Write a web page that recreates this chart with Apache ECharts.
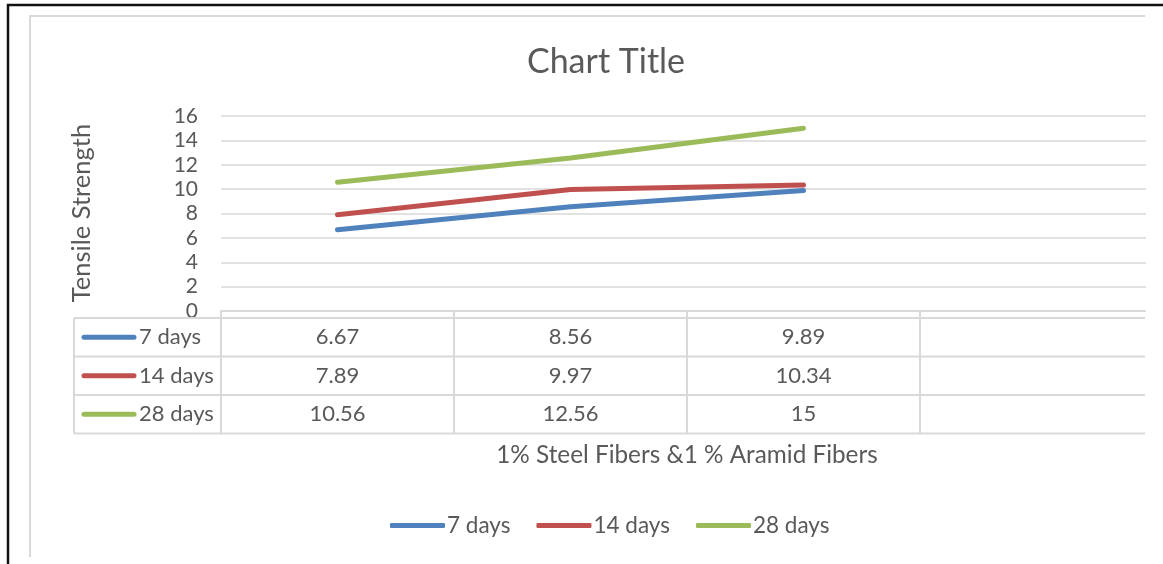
<!DOCTYPE html>
<html>
<head>
<meta charset="utf-8">
<script src="https://cdn.jsdelivr.net/npm/echarts@6/dist/echarts.min.js"></script>
<style>
  html, body { margin: 0; padding: 0; background: #fff; }
  #chart { width: 1163px; height: 564px; }
</style>
</head>
<body>
<div id="chart"></div>
<script>
// Tensile strength by curing age, one column per mix (last column empty)
const categories = ['', '', '', ''];
const seriesNames = ['7 days', '14 days', '28 days'];
const days7 = [6.67, 8.56, 9.89, null];
const days14 = [7.89, 9.97, 10.34, null];
const days28 = [10.56, 12.56, 15, null];
const yMin = 0;
const yMax = 16;
const yStep = 2;
const chartTitle = 'Chart Title';
const xTitle = '1% Steel Fibers &1 % Aramid Fibers';
const yTitle = 'Tensile Strength';

const seriesData = [days7, days14, days28];
const colors = ['#4F81BD', '#C0504D', '#9BBB59'];
const FONT = 'Lato';
const TEXT = '#595959';
const RULE = '#d9d9d9';

const chart = echarts.init(document.getElementById('chart'), null, { renderer: 'canvas' });

chart.setOption({
  animation: false,
  backgroundColor: '#fff',
  color: colors,
  textStyle: { fontFamily: FONT, color: TEXT },
  grid: { left: 221, right: 10, top: 116, bottom: 253, containLabel: false },
  xAxis: {
    type: 'category',
    data: categories,
    boundaryGap: true,
    axisLine: { show: true, lineStyle: { color: RULE, width: 2 } },
    axisTick: { show: true, length: 122, lineStyle: { color: RULE, width: 2 } },
    axisLabel: { show: false },
    splitLine: { show: false }
  },
  yAxis: {
    type: 'value',
    min: yMin,
    max: yMax,
    interval: yStep,
    axisLine: { show: false },
    axisTick: { show: false },
    axisLabel: { fontSize: 21, color: TEXT, fontFamily: FONT, margin: 23 },
    splitLine: { lineStyle: { color: RULE, width: 1.5 } }
  },
  legend: {
    data: seriesNames,
    left: 390,
    top: 514,
    padding: 0,
    icon: 'roundRect',
    itemWidth: 55,
    itemHeight: 5,
    itemGap: 26,
    textStyle: { fontSize: 22.5, color: TEXT, fontFamily: FONT, padding: [0, 0, 0, -3] }
  },
  series: seriesNames.map((name, k) => ({
    name,
    type: 'line',
    data: seriesData[k],
    symbol: 'none',
    smooth: false,
    lineStyle: { width: 5, color: colors[k], cap: 'round', join: 'round' },
    itemStyle: { color: colors[k] },
    z: 3
  }))
});

// Data table, titles and frame drawn beneath/around the plot
const centers = categories.map((_, i) => chart.convertToPixel({ xAxisIndex: 0 }, i));
const rowTop = 318;
const rowH = 38.5;
const tableLeft = 74;
const tableRight = 1145;
const g = [];

// blank strip past the visible frame
g.push({ type: 'rect', shape: { x: 1146, y: 12, width: 20, height: 560 }, style: { fill: '#fff' }, z: 50 });

// table rules
for (let r = 0; r <= seriesNames.length; r++) {
  const y = rowTop + r * rowH;
  g.push({ type: 'line', shape: { x1: tableLeft, y1: y, x2: tableRight, y2: y }, style: { stroke: RULE, lineWidth: 2 }, z: 1 });
}
g.push({ type: 'line', shape: { x1: tableLeft, y1: rowTop, x2: tableLeft, y2: rowTop + rowH * seriesNames.length }, style: { stroke: RULE, lineWidth: 2 }, z: 1 });

// row headers with legend keys and cell values
seriesNames.forEach((name, r) => {
  const cy = rowTop + rowH * (r + 0.5);
  g.push({ type: 'line', shape: { x1: 84, y1: cy, x2: 134, y2: cy }, style: { stroke: colors[r], lineWidth: 5, lineCap: 'round' }, z: 5 });
  g.push({ type: 'text', x: 139, y: cy, style: { text: name, fontSize: 22, fontFamily: FONT, fill: TEXT, align: 'left', verticalAlign: 'middle' }, z: 5 });
  seriesData[r].forEach((v, i) => {
    if (v === null) return;
    g.push({ type: 'text', x: centers[i], y: cy, style: { text: String(v), fontSize: 22, fontFamily: FONT, fill: TEXT, align: 'center', verticalAlign: 'middle' }, z: 5 });
  });
});

// chart title and axis titles
g.push({ type: 'text', x: 606, y: 62, style: { text: chartTitle, fontSize: 34, fontFamily: FONT, fill: TEXT, align: 'center', verticalAlign: 'middle' }, z: 5 });
const plotMid = (centers[0] + centers[centers.length - 1]) / 2;
g.push({ type: 'text', x: plotMid, y: 455, style: { text: xTitle, fontSize: 24.3, fontFamily: FONT, fill: TEXT, align: 'center', verticalAlign: 'middle' }, z: 5 });
g.push({ type: 'text', x: 82, y: 213, rotation: Math.PI / 2, style: { text: yTitle, fontSize: 25.5, fontFamily: FONT, fill: TEXT, align: 'center', verticalAlign: 'middle' }, z: 5 });

// frames
g.push({ type: 'polyline', shape: { points: [[30, 557], [30, 16], [1145, 16]] }, style: { stroke: RULE, lineWidth: 2, fill: null }, z: 60 });
g.push({ type: 'polyline', shape: { points: [[8, 564], [8, 5], [1163, 5]] }, style: { stroke: '#111', lineWidth: 2.5, fill: null }, z: 60 });

chart.setOption({ graphic: { elements: g } });
</script>
</body>
</html>
